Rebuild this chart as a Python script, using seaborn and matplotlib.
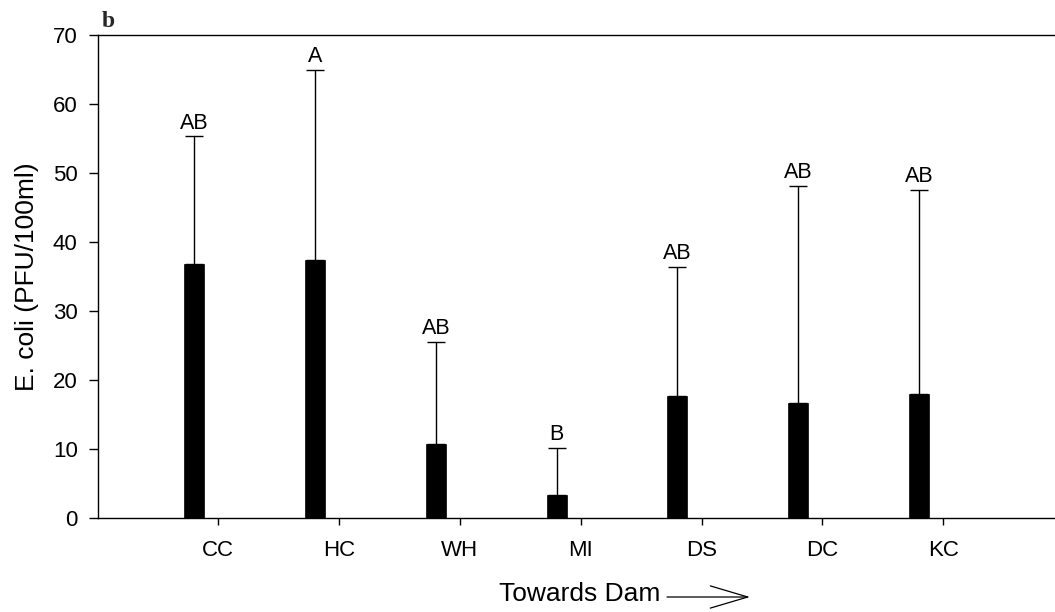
import numpy as np
import pandas as pd
import seaborn as sns
import matplotlib.pyplot as plt
from matplotlib.patches import FancyArrowPatch

# Sampling sites (upstream -> dam), mean E. coli and upper error
sites = ["CC", "HC", "WH", "MI", "DS", "DC", "KC"]
means = [36.8, 37.4, 10.7, 3.3, 17.7, 16.6, 17.9]
upper_err = [18.5, 27.5, 14.8, 6.9, 18.7, 31.5, 29.7]
letters = ["AB", "A", "AB", "B", "AB", "AB", "AB"]
y_ticks = [0, 10, 20, 30, 40, 50, 60, 70]

sns.set_theme(style="ticks")
plt.rcParams["font.family"] = ["Liberation Sans", "DejaVu Sans"]

# bars sit slightly left of each site tick
bar_offset = -0.2
site_idx = np.arange(len(sites))
df = pd.DataFrame({"pos": site_idx + bar_offset, "mean": means, "site": sites})

fig = plt.figure(figsize=(10.55, 6.12), dpi=100)
ax = fig.add_axes([97.5 / 1055, 94 / 612, (1064 - 97.5) / 1055, 483 / 612])

sns.barplot(data=df, x="pos", y="mean", native_scale=True, width=0.165,
            color="black", edgecolor="black", linewidth=0.5, saturation=1,
            errorbar=None, ax=ax)

ax.errorbar(df["pos"], df["mean"],
            yerr=[np.zeros(len(means)), upper_err],
            fmt="none", ecolor="black", elinewidth=1.0,
            capsize=6.2, capthick=1.0)

for p, m, e, lab in zip(df["pos"], means, upper_err, letters):
    ax.annotate(lab, (p, m + e), xytext=(0, 2), textcoords="offset points",
                ha="center", va="bottom", fontsize=15.5, color="black")

ax.set_xlim(-1, 7)
ax.set_ylim(0, 70)
ax.set_yticks(y_ticks)
ax.set_xticks(site_idx, sites)
ax.tick_params(axis="y", labelsize=16, length=6.8, width=1.0, pad=7.5, colors="black")
ax.tick_params(axis="x", labelsize=16, length=5, width=1.0, pad=11, colors="black")
for side in ["left", "bottom", "top"]:
    ax.spines[side].set_color("black")
    ax.spines[side].set_linewidth(1.0)
ax.spines["right"].set_visible(False)

ax.set_xlabel("")
ax.set_ylabel("E. coli (PFU/100ml)", fontsize=19, labelpad=10, color="black")

# x-axis caption with direction arrow
fig.text(580 / 1055, 1 - 594 / 612, "Towards Dam", fontsize=19,
         ha="center", va="center", color="black")
fig.patches.append(FancyArrowPatch(
    (667 / 1055, 1 - 597 / 612), (750 / 1055, 1 - 597 / 612),
    transform=fig.transFigure, arrowstyle="->,head_length=2.7,head_width=0.8",
    mutation_scale=10, color="black", linewidth=0.9, shrinkA=0, shrinkB=0))

# panel letter
fig.text(102 / 1055, 1 - 27 / 612, "b", fontsize=17, fontweight="bold",
         family=["Liberation Serif", "DejaVu Serif"], ha="left", va="baseline")

fig.savefig("out.png", dpi=100)
